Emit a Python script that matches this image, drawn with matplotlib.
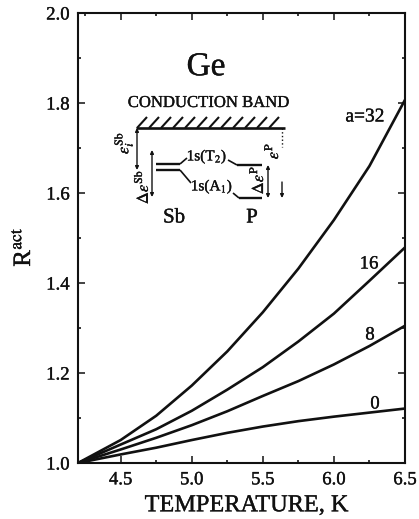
import matplotlib
matplotlib.use('Agg')
import matplotlib.pyplot as plt
import matplotlib.patheffects as pe
from matplotlib.text import Text
from matplotlib.ticker import MultipleLocator

plt.rcParams['font.family'] = ['Liberation Serif', 'DejaVu Serif']
plt.rcParams['mathtext.fontset'] = 'stix'

W, H = 419, 519
INK = '#111111'

temperature = [4.2, 4.5, 4.75, 5.0, 5.25, 5.5, 5.75, 6.0, 6.25, 6.5]
r_a32 = [1.0, 1.051, 1.105, 1.172, 1.248, 1.335, 1.432, 1.54, 1.66, 1.807]
r_a16 = [1.0, 1.041, 1.075, 1.116, 1.163, 1.213, 1.27, 1.332, 1.405, 1.479]
r_a8 = [1.0, 1.03, 1.056, 1.084, 1.115, 1.149, 1.182, 1.219, 1.26, 1.305]
r_a0 = [1.0, 1.019, 1.034, 1.051, 1.067, 1.081, 1.093, 1.103, 1.112, 1.121]

x_ticks = [4.5, 5.0, 5.5, 6.0, 6.5]
y_ticks = [1.0, 1.2, 1.4, 1.6, 1.8, 2.0]

fig = plt.figure(figsize=(W / 100, H / 100), dpi=100)
ax = fig.add_axes([78 / W, 1 - 463 / H, 327 / W, 450 / H])

for r in [r_a32, r_a16, r_a8, r_a0]:
    ax.plot(temperature, r, color=INK, lw=1.9, solid_capstyle='round', solid_joinstyle='round')

ax.set_xlim(4.2, 6.5)
ax.set_ylim(1.0, 2.0)
ax.set_xticks(x_ticks)
ax.set_xticklabels(['%.1f' % t for t in x_ticks])
ax.set_yticks(y_ticks)
ax.set_yticklabels(['%.1f' % t for t in y_ticks])
ax.xaxis.set_minor_locator(MultipleLocator(0.25))
ax.yaxis.set_minor_locator(MultipleLocator(0.1))
ax.tick_params(which='major', direction='in', top=True, right=True, length=5, width=1.1,
               labelsize=13.5, colors=INK, pad=6)
ax.tick_params(which='minor', direction='in', top=True, right=True, length=2.5, width=1.1)
for s in ax.spines.values():
    s.set_linewidth(1.5)
    s.set_color(INK)

ax.set_xlabel('TEMPERATURE, K', fontsize=17.5, color=INK, labelpad=5, x=0.515)
ax.set_ylabel(r'R$^{\mathrm{act}}$', fontsize=18, color=INK, labelpad=8, y=0.48)

# overlay in pixels for the curve labels and the level scheme
ov = fig.add_axes([0, 0, 1, 1], facecolor='none')
ov.set_xlim(0, W)
ov.set_ylim(H, 0)
ov.axis('off')

def put(x, y, s, size=12, rot=0):
    ov.text(x, y, s, fontsize=size, rotation=rot, ha='center', va='center', color=INK)

def seg(x0, y0, x1, y1, lw=1.2):
    ov.plot([x0, x1], [y0, y1], color=INK, lw=lw, solid_capstyle='butt')

def arrow(x, y0, y1, style='<|-|>'):
    ov.annotate('', xy=(x, y1), xytext=(x, y0),
                arrowprops=dict(arrowstyle=style, color=INK, lw=1.0,
                                mutation_scale=5, shrinkA=0, shrinkB=0))

put(365, 117, 'a=32', 14)
put(369, 264, '16', 13.5)
put(370, 335, '8', 13.5)
put(375, 404, '0', 13.5)

put(206, 67, 'Ge', 24)
put(208, 103, 'CONDUCTION BAND', 12)
seg(136, 128, 285, 128, 1.9)
for hx in range(137, 276, 12):
    seg(hx, 128, hx + 10, 117, 1.5)

arrow(137, 128, 170)
put(123, 143, r'$\varepsilon_i^{\mathrm{Sb}}$', 12, 90)
arrow(152, 150, 197)
put(142, 187, r'$\Delta\varepsilon^{\mathrm{Sb}}$', 12, 90)
seg(156, 164, 180, 164, 1.7)
seg(156, 170, 180, 170, 1.7)
seg(180, 164, 187, 158)
seg(180, 170, 191, 183)
put(207, 157, r'1s(T$_2$)', 11)
put(212, 187, r'1s(A$_1$)', 11)
seg(228, 160, 237, 165)
seg(237, 165, 262, 165, 1.7)
seg(233, 193, 239, 198)
seg(239, 198, 262, 198, 1.7)
arrow(268, 165, 198)
put(257, 180, r'$\Delta\varepsilon^{\mathrm{P}}$', 12, 90)
ov.plot([282, 282], [128, 147], color=INK, lw=1.0, ls=':')
put(272, 151, r'$\varepsilon^{\mathrm{P}}$', 12, 90)
arrow(282, 182, 198, '-|>')
put(174, 218, 'Sb', 15)
put(252, 218, 'P', 15)

# scanned print looks heavier than plain glyphs
for t in fig.findobj(Text):
    t.set_path_effects([pe.withStroke(linewidth=0.25, foreground=INK)])

fig.savefig('out.png', dpi=100)
